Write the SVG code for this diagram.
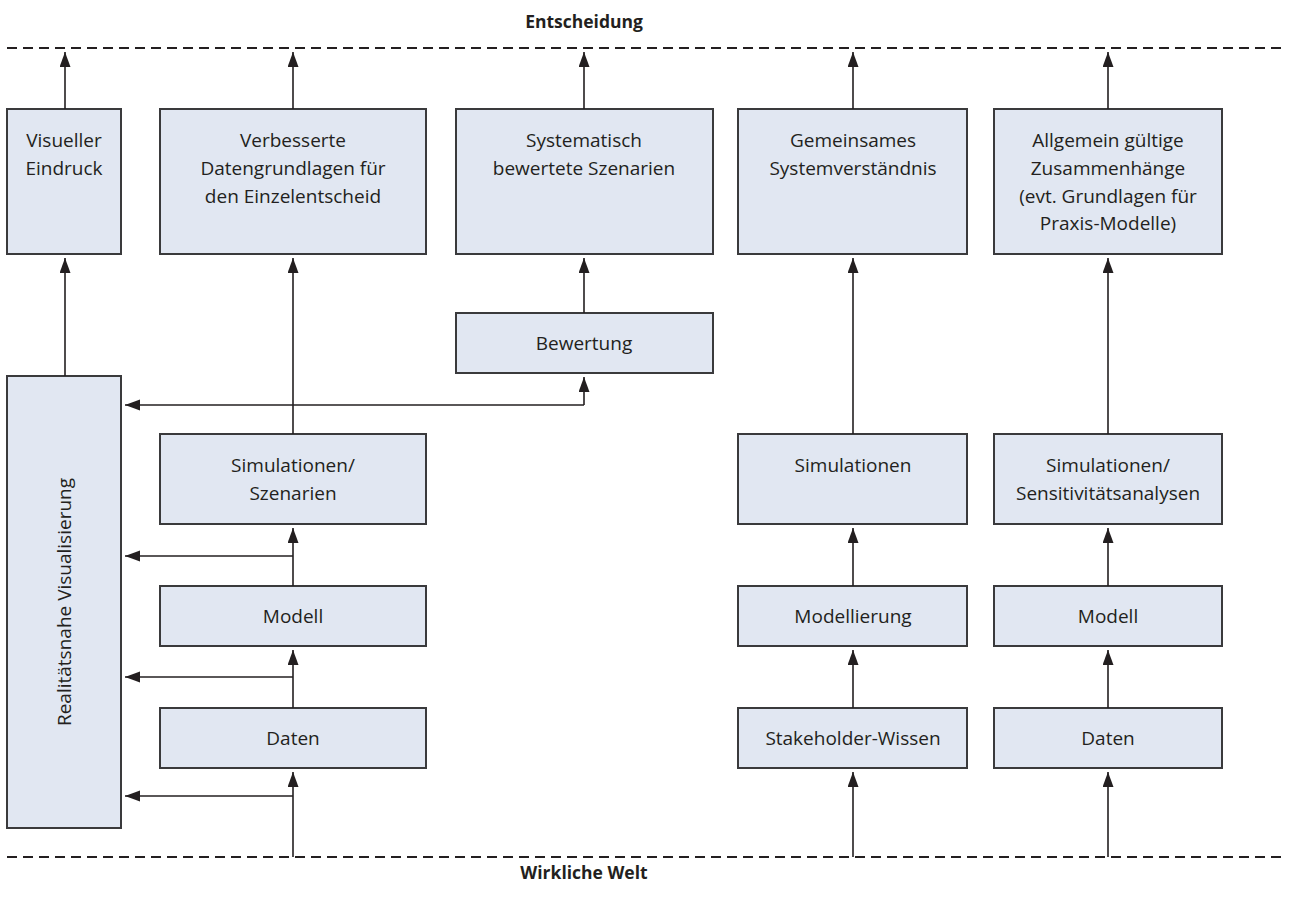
<svg xmlns="http://www.w3.org/2000/svg" width="1289" height="900" viewBox="0 0 1289 900">
<style>
.box{fill:#e1e7f2;stroke:#3a3a3c;stroke-width:2}
.t{font-family:"Open Sans","Noto Sans",sans-serif;font-size:19px;fill:#231f20;text-anchor:middle}
.h{font-family:"Open Sans","Noto Sans",sans-serif;font-size:17.5px;font-weight:bold;fill:#231f20;text-anchor:middle}
.c{fill:none;stroke:#231f20;stroke-width:1.6}
.d{fill:none;stroke:#231f20;stroke-width:2;stroke-dasharray:10 6}
</style>
<defs>
<marker id="a" markerUnits="userSpaceOnUse" markerWidth="16" markerHeight="12" refX="15" refY="5.5" orient="auto">
<path d="M0,0 L15,5.5 L0,11 Z" fill="#231f20"/>
</marker>
</defs>
<rect width="1289" height="900" fill="#fff"/>
<g id="borders">
<line class="d" x1="7" y1="48" x2="1285" y2="48"/>
<line class="d" x1="7" y1="857" x2="1285" y2="857"/>
<text class="h" x="584" y="28">Entscheidung</text>
<text class="h" x="584" y="879">Wirkliche Welt</text>
</g>
<g id="n1"><rect class="box" x="7" y="109" width="114" height="145"/><text class="t" x="64" y="147">Visueller</text><text class="t" x="64" y="175">Eindruck</text></g>
<g id="n2"><rect class="box" x="160" y="109" width="266" height="145"/><text class="t" x="293" y="147">Verbesserte</text><text class="t" x="293" y="175">Datengrundlagen für</text><text class="t" x="293" y="203">den Einzelentscheid</text></g>
<g id="n3"><rect class="box" x="456" y="109" width="257" height="145"/><text class="t" x="584" y="147">Systematisch</text><text class="t" x="584" y="175">bewertete Szenarien</text></g>
<g id="n4"><rect class="box" x="738" y="109" width="229" height="145"/><text class="t" x="853" y="147">Gemeinsames</text><text class="t" x="853" y="175">Systemverständnis</text></g>
<g id="n5"><rect class="box" x="994" y="109" width="228" height="145"/><text class="t" x="1108" y="147">Allgemein gültige</text><text class="t" x="1108" y="175">Zusammenhänge</text><text class="t" x="1108" y="203">(evt. Grundlagen für</text><text class="t" x="1108" y="230">Praxis-Modelle)</text></g>
<g id="n6"><rect class="box" x="456" y="313" width="257" height="60"/><text class="t" x="584" y="350">Bewertung</text></g>
<g id="n7"><rect class="box" x="7" y="376" width="114" height="452"/><text class="t" transform="translate(71,602) rotate(-90)">Realitätsnahe Visualisierung</text></g>
<g id="n8"><rect class="box" x="160" y="434" width="266" height="90"/><text class="t" x="293" y="472">Simulationen/</text><text class="t" x="293" y="500">Szenarien</text></g>
<g id="n9"><rect class="box" x="160" y="586" width="266" height="60"/><text class="t" x="293" y="623">Modell</text></g>
<g id="n10"><rect class="box" x="160" y="708" width="266" height="60"/><text class="t" x="293" y="745">Daten</text></g>
<g id="n11"><rect class="box" x="738" y="434" width="229" height="90"/><text class="t" x="853" y="472">Simulationen</text></g>
<g id="n12"><rect class="box" x="738" y="586" width="229" height="60"/><text class="t" x="853" y="623">Modellierung</text></g>
<g id="n13"><rect class="box" x="738" y="708" width="229" height="60"/><text class="t" x="853" y="745">Stakeholder-Wissen</text></g>
<g id="n14"><rect class="box" x="994" y="434" width="228" height="90"/><text class="t" x="1108" y="472">Simulationen/</text><text class="t" x="1108" y="500">Sensitivitätsanalysen</text></g>
<g id="n15"><rect class="box" x="994" y="586" width="228" height="60"/><text class="t" x="1108" y="623">Modell</text></g>
<g id="n16"><rect class="box" x="994" y="708" width="228" height="60"/><text class="t" x="1108" y="745">Daten</text></g>
<g id="connectors">
<line class="c" x1="65" y1="109" x2="65" y2="52" marker-end="url(#a)"/>
<line class="c" x1="293" y1="109" x2="293" y2="52" marker-end="url(#a)"/>
<line class="c" x1="584" y1="109" x2="584" y2="52" marker-end="url(#a)"/>
<line class="c" x1="853" y1="109" x2="853" y2="52" marker-end="url(#a)"/>
<line class="c" x1="1108" y1="109" x2="1108" y2="52" marker-end="url(#a)"/>
<line class="c" x1="65" y1="376" x2="65" y2="258" marker-end="url(#a)"/>
<line class="c" x1="293" y1="434" x2="293" y2="258" marker-end="url(#a)"/>
<line class="c" x1="584" y1="313" x2="584" y2="258" marker-end="url(#a)"/>
<polyline class="c" points="584,405 584,377" marker-end="url(#a)"/>
<line class="c" x1="584" y1="405" x2="125" y2="405" marker-end="url(#a)"/>
<line class="c" x1="293" y1="586" x2="293" y2="528" marker-end="url(#a)"/>
<line class="c" x1="293" y1="556" x2="125" y2="556" marker-end="url(#a)"/>
<line class="c" x1="293" y1="708" x2="293" y2="650" marker-end="url(#a)"/>
<line class="c" x1="293" y1="677" x2="125" y2="677" marker-end="url(#a)"/>
<line class="c" x1="293" y1="857" x2="293" y2="772" marker-end="url(#a)"/>
<line class="c" x1="293" y1="796" x2="125" y2="796" marker-end="url(#a)"/>
<line class="c" x1="853" y1="434" x2="853" y2="258" marker-end="url(#a)"/>
<line class="c" x1="853" y1="586" x2="853" y2="528" marker-end="url(#a)"/>
<line class="c" x1="853" y1="708" x2="853" y2="650" marker-end="url(#a)"/>
<line class="c" x1="853" y1="857" x2="853" y2="772" marker-end="url(#a)"/>
<line class="c" x1="1108" y1="434" x2="1108" y2="258" marker-end="url(#a)"/>
<line class="c" x1="1108" y1="586" x2="1108" y2="528" marker-end="url(#a)"/>
<line class="c" x1="1108" y1="708" x2="1108" y2="650" marker-end="url(#a)"/>
<line class="c" x1="1108" y1="857" x2="1108" y2="772" marker-end="url(#a)"/>
</g>
</svg>
